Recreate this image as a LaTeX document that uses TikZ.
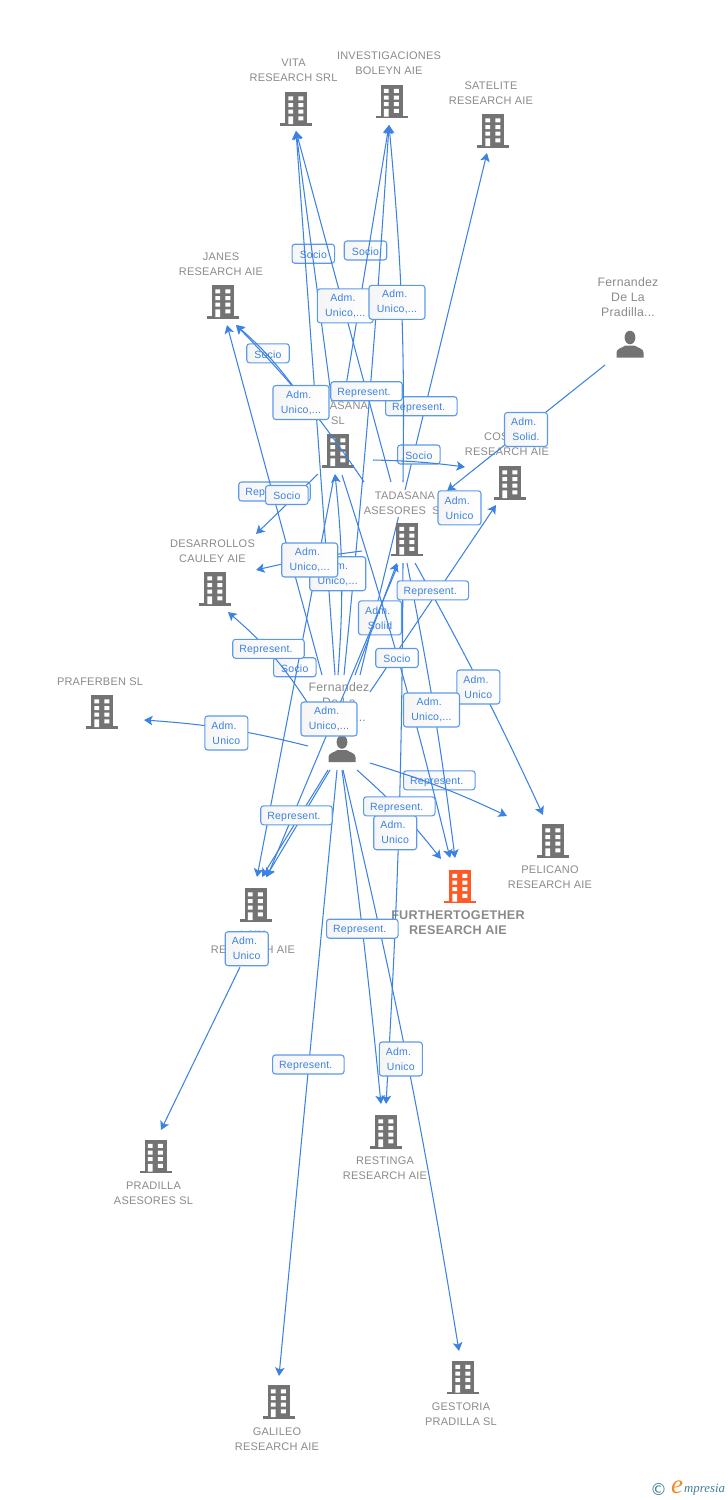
\documentclass[tikz,border=0pt]{standalone}
\usepackage{fontspec}
\setmainfont{Liberation Sans}[LetterSpace=2]
\newfontfamily\logofont{Liberation Serif}
\newfontfamily\copyfont{DejaVu Sans}
\usetikzlibrary{arrows.meta}
\definecolor{linkblue}{HTML}{3C82E2}
\definecolor{boxblue}{HTML}{5C9AE8}
\definecolor{labelgrey}{HTML}{8A8A8A}
\definecolor{icongrey}{HTML}{737373}
\definecolor{hotorange}{HTML}{FF5A26}
\definecolor{logoteal}{HTML}{3F7F96}
\definecolor{logoorange}{HTML}{F08A24}
\newcommand{\tadm}{Adm.\hspace*{4.5pt}}
\newcommand{\trep}{Represent.\hspace*{5pt}}
\tikzset{
  conn/.style={draw=linkblue,line width=1.05pt,-{Stealth[length=8.5pt,width=9.5pt,inset=2pt]}},
  lbl/.style={draw=boxblue,line width=1.1pt,rounded corners=2.8pt,left color=black!4,right color=white,text=linkblue,
     font=\fontsize{10.5}{15}\selectfont,align=center,inner sep=0pt,outer sep=0pt,
     execute at begin node={\rule{0pt}{10pt}}},
  sociobox/.style={lbl,minimum width=42.5pt,minimum height=19pt},
  repbox/.style={lbl,minimum width=71.5pt,minimum height=19pt},
  admwide/.style={lbl,minimum width=56pt,minimum height=34pt},
  admnarrow/.style={lbl,minimum width=43pt,minimum height=34pt},
  ent/.style={text=labelgrey,font=\fontsize{11}{15}\selectfont,align=center,inner sep=0pt},
  pername/.style={text=labelgrey,font=\fontsize{12.3}{15}\selectfont,align=center,inner sep=0pt},
  pics/bldg/.style={code={
    \fill[#1] (-11,0) rectangle (11,32);
    \fill[#1] (-16,31) rectangle (16,33.5);
    \fill[white] (-7.7,4.3) rectangle (-3,8.3) (2.3,4.3) rectangle (7.3,8.3)
      (-7.7,11) rectangle (-3,15) (2.3,11) rectangle (7.3,15)
      (-7.7,17.7) rectangle (-3,21.7) (2.3,17.7) rectangle (7.3,21.7)
      (-7.7,24.3) rectangle (-3,32) (2.3,24.3) rectangle (7.3,28.3);
  }},
  pics/bldg/.default=icongrey,
  pics/persona/.style={code={
    \fill[icongrey] (0,6.5) ellipse (5.4 and 6.8);
    \fill[icongrey] (-13.5,26.5) -- (-13.5,21.5) .. controls (-13.5,17.5) and (-8,17) .. (-4.5,14.5)
      -- (4.5,14.5) .. controls (8,17) and (13.5,17.5) .. (13.5,21.5) -- (13.5,26.5) -- cycle;
  }}
}
\begin{document}
\begin{tikzpicture}[x=1pt,y=-1pt]
\useasboundingbox (0,0) rectangle (728,1500);
% end points
\coordinate (vitaT) at (296,131);
\coordinate (invT) at (389,125);
\coordinate (satT) at (487,153);
\coordinate (janA) at (227,325);
\coordinate (janB) at (236,325);
\coordinate (desA) at (256,534);
\coordinate (desB) at (256,570);
\coordinate (desC) at (228,612);
\coordinate (praT) at (144,720);
\coordinate (tadT) at (335,474);
\coordinate (aseT) at (397,563);
\coordinate (cosT) at (496,505);
\coordinate (cosL) at (465,467);
\coordinate (aseR) at (447,491);
\coordinate (pelA) at (543,815);
\coordinate (pelB) at (507,816);
\coordinate (furA) at (441,859);
\coordinate (furB) at (450,858);
\coordinate (furC) at (455,858);
\coordinate (laiA) at (257,877);
\coordinate (laiB) at (262,877);
\coordinate (laiC) at (266,877);
\coordinate (laiD) at (267,877);
\coordinate (resA) at (381,1104);
\coordinate (resB) at (386,1104);
\coordinate (praS) at (161,1130);
\coordinate (galT) at (279,1376);
\coordinate (gesT) at (459,1351);
\coordinate (sVitaF) at (335,675);
\coordinate (sVitaT) at (332,402);
\coordinate (sVitaA) at (391,482);
\coordinate (sInvT) at (345,392);
\coordinate (sInvF) at (344,675);
\coordinate (sInvA) at (403,482);
\coordinate (sSat) at (360,675);
\coordinate (sJanF) at (322,675);
\coordinate (sJanT) at (296,390);
\coordinate (sJanA) at (364,482);
\coordinate (sDesT) at (318,474);
\coordinate (sDesA) at (362,551);
\coordinate (sDesF) at (307,702);
\coordinate (sPra) at (308,746);
\coordinate (sTadF) at (338,675);
\coordinate (sLaiT) at (334,477);
\coordinate (sFurT) at (342,475);
\coordinate (sAseF) at (355,675);
\coordinate (sLaiA) at (398,565);
\coordinate (sPraL) at (240,967);
\coordinate (sCosT) at (373,460);
\coordinate (sCosF) at (370,692);
\coordinate (sPrad) at (605,365);
\coordinate (sPelA) at (415,563);
\coordinate (sPelF) at (370,763);
\coordinate (sFurF) at (357,770);
\coordinate (sFurA) at (407,563);
\coordinate (sLaiF) at (328,770);
\coordinate (sLaiG) at (330,770);
\coordinate (sResA) at (403,563);
\coordinate (sResF) at (342,770);
\coordinate (sGes) at (343,770);
\coordinate (sGal) at (337,770);
% this connector runs behind the Tadasana Asesores entity
\draw[conn] (sSat) -- (satT);
% entities
\pic at (296,92) {bldg};
\pic at (391.5,84.5) {bldg};
\pic at (493,114) {bldg};
\pic at (223,285) {bldg};
\pic at (338,434) {bldg};
\pic at (407,522.5) {bldg};
\pic at (510,466) {bldg};
\pic at (215,572) {bldg};
\pic at (102,695) {bldg};
\pic at (553,824) {bldg};
\pic at (460,869.5) {bldg=hotorange};
\pic at (255.5,888) {bldg};
\pic at (386,1115) {bldg};
\pic at (155.5,1139.5) {bldg};
\pic at (278.5,1385) {bldg};
\pic at (463,1360.5) {bldg};
\pic at (342,735.5) {persona};
\pic at (630,331) {persona};
\node[ent] (nVita) at (293.5,70.3) {VITA\\RESEARCH SRL};
\node[ent] (nInv) at (389,63.3) {INVESTIGACIONES\\BOLEYN AIE};
\node[ent] (nSat) at (491,93.3) {SATELITE\\RESEARCH AIE};
\node[ent] (nJan) at (221,264.3) {JANES\\RESEARCH AIE};
\node[pername] (nPrad) at (628,296.7) {Fernandez\\De La\\Pradilla...};
\node[ent] (nTad) at (338,413.3) {TADASANA\\SL};
\node[ent] (nCos) at (507,444.3) {COSTAS\\RESEARCH AIE};
\node[ent,fill=white,inner xsep=2pt,inner ysep=2pt] (nAse) at (405,503.3) {TADASANA\\ASESORES\ \ SL};
\node[ent] (nDes) at (212.5,551.3) {DESARROLLOS\\CAULEY AIE};
\node[ent] (nPra) at (100,681.8) {PRAFERBEN SL};
\node[pername] (nFer) at (339,701.7) {Fernandez\\De La\\Pradilla...};
\node[ent] (nPel) at (550,877.3) {PELICANO\\RESEARCH AIE};
\node[text=labelgrey,font=\fontsize{12.6}{15}\selectfont\bfseries,align=center,inner sep=0pt] (nFur) at (458,923) {FURTHERTOGETHER\\RESEARCH AIE};
\node[ent] (nLai) at (253,942.3) {LAIN\\RESEARCH AIE};
\node[ent] (nRes) at (385,1168.3) {RESTINGA\\RESEARCH AIE};
\node[ent] (nPrS) at (153.5,1193.3) {PRADILLA\\ASESORES SL};
\node[ent] (nGal) at (277,1439.3) {GALILEO\\RESEARCH AIE};
\node[ent] (nGes) at (461,1414.3) {GESTORIA\\PRADILLA SL};
% labels lying under the connectors
\node[sociobox] (l1) at (313.3,253.7) {Socio};
\node[sociobox] (l2) at (365.5,250.5) {Socio};
\node[repbox] (l3) at (421.3,406.2) {\trep};
\node[sociobox] (l4) at (268,353.3) {Socio};
\node[sociobox] (l5) at (418.8,454.5) {Socio};
\node[admnarrow] (l6) at (380,617.8) {\tadm\\Solid};
\node[sociobox] (l7) at (294.8,667.2) {Socio};
\node[repbox] (l8) at (439.3,780.3) {\trep};
\node[repbox] (l9) at (274.5,491.5) {\trep};
% connectors
\draw[conn] (sVitaF) -- (vitaT);
\draw[conn] (sVitaT) -- (vitaT);
\draw[conn] (sVitaA) -- (vitaT);
\draw[conn] (sInvT) -- (invT);
\draw[conn] (sInvF) to[bend right=1] (invT);
\draw[conn] (sInvA) to[bend right=3] (invT);
\draw[conn] (sJanF) -- (janA);
\draw[conn] (sJanT) to[bend right=6] (janB);
\draw[conn] (sJanA) to[bend right=5] (janB);
\draw[conn] (sDesT) -- (desA);
\draw[conn] (sDesA) to[bend right=3] (desB);
\draw[conn] (sDesF) to[bend right=8] (desC);
\draw[conn] (sPra) to[bend right=5] (praT);
\draw[conn] (sTadF) to[bend right=5] (tadT);
\draw[conn] (sLaiT) -- (laiA);
\draw[conn] (sFurT) to[bend left=2] (furB);
\draw[conn] (sAseF) -- (aseT);
\draw[conn] (sLaiA) -- (laiD);
\draw[conn] (sPraL) -- (praS);
\draw[conn] (sCosT) to[bend left=3] (cosL);
\draw[conn] (sCosF) -- (cosT);
\draw[conn] (sPrad) -- (aseR);
\draw[conn] (sPelA) to[bend left=2] (pelA);
\draw[conn] (sPelF) to[bend left=4] (pelB);
\draw[conn] (sFurF) to[bend left=5] (furA);
\draw[conn] (sFurA) to[bend left=2] (furC);
\draw[conn] (sLaiF) -- (laiB);
\draw[conn] (sLaiG) -- (laiC);
\draw[conn] (sResA) to[bend left=1.5] (resB);
\draw[conn] (sResF) to[bend left=1] (resA);
\draw[conn] (sGes) to[bend left=2] (gesT);
\draw[conn] (sGal) -- (galT);
% labels lying over the connectors
\node[admwide] (t1) at (345.3,305.8) {\tadm\\Unico,...};
\node[admwide] (t2) at (397,302.3) {\tadm\\Unico,...};
\node[admwide] (t3) at (301,402.5) {\tadm\\Unico,...};
\node[repbox] (t4) at (366.5,391.2) {\trep};
\node[sociobox] (t5) at (286.8,495) {Socio};
\node[admnarrow] (t6) at (459.5,507.8) {\tadm\\Unico};
\node[admnarrow] (t7) at (526,429.5) {\tadm\\Solid.};
\node[admwide] (t8) at (337.7,573.7) {\tadm\\Unico,...};
\node[admwide] (t9) at (309.7,560) {\tadm\\Unico,...};
\node[repbox] (t10) at (432.8,590.3) {\trep};
\node[repbox] (t11) at (268.5,648.8) {\trep};
\node[sociobox] (t12) at (397,658) {Socio};
\node[admnarrow] (t13) at (478.3,687) {\tadm\\Unico};
\node[admwide] (t14) at (431.5,710) {\tadm\\Unico,...};
\node[admwide] (t15) at (329,719) {\tadm\\Unico,...};
\node[admnarrow] (t16) at (226.3,733) {\tadm\\Unico};
\node[admnarrow] (t17) at (395.2,832.7) {\tadm\\Unico};
\node[repbox] (t18) at (399.3,806.3) {\trep};
\node[repbox] (t19) at (296.5,815.3) {\trep};
\node[repbox] (t20) at (362.3,928.7) {\trep};
\node[admnarrow] (t21) at (246.7,948.7) {\tadm\\Unico};
\node[repbox] (t22) at (308.3,1064.5) {\trep};
\node[admnarrow] (t23) at (400.8,1059) {\tadm\\Unico};
% logo
\node[text=logoteal,inner sep=0pt,font=\copyfont\fontsize{16.5}{16.5}\selectfont] (logoC) at (658.5,1489.5) {©};
\node[text=logoorange,inner sep=0pt,font=\logofont\itshape\fontsize{27}{27}\selectfont] (logoE) at (677,1487) {e};
\node[text=logoteal,inner sep=0pt,anchor=west,font=\logofont\itshape\fontsize{12.8}{15}\selectfont] (logoM) at (684,1490) {mpresia};
\end{tikzpicture}
\end{document}
